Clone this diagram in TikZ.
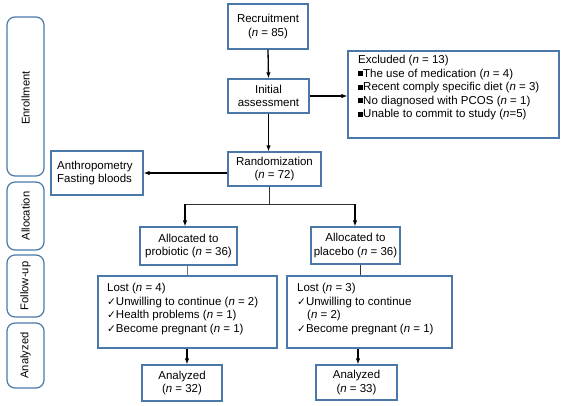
\documentclass[tikz,border=0pt]{standalone}
\usepackage{fontspec}
\setmainfont{Liberation Sans}
\newfontfamily\dejavu{DejaVu Sans}
\usetikzlibrary{arrows.meta}
\definecolor{boxblue}{HTML}{4A78A8}
\newcommand{\sqb}{\rule[0.6pt]{5pt}{5pt}}
\newcommand{\ck}{{\dejavu\fontsize{10.5}{10}\selectfont ✓}}
\newcommand{\nn}{\textit{n}}
\tikzset{
  box/.style={draw=boxblue, line width=1.2pt, inner sep=0pt, align=center,
    font=\fontsize{11.5}{13.5}\selectfont},
  side/.style={draw=boxblue, line width=1.2pt, rounded corners=8pt},
  sidetext/.style={rotate=90, font=\fontsize{11.2}{13.5}\selectfont},
  txt/.style={inner sep=0pt, align=left, font=\fontsize{11.5}{13.5}\selectfont},
  arr/.style={line width=1.3pt, -{Latex[length=6pt,width=4.5pt]}},
  thinline/.style={line width=0.9pt, draw=black!80},
}
\begin{document}
\begin{tikzpicture}[x=1pt,y=-1pt]
\useasboundingbox (0,0) rectangle (564,405);
% side boxes
\draw[side] (7,17) rectangle (44,176);
\node[sidetext] (sEnr) at (25.5,98) {Enrollment};
\draw[side] (7,182) rectangle (44,250);
\node[sidetext] (sAll) at (25.5,216) {Allocation};
\draw[side] (7,255) rectangle (44,317);
\node[sidetext] (sFol) at (25.5,286) {Follow-up};
\draw[side] (7,323) rectangle (44,388);
\node[sidetext] (sAna) at (25.5,355.5) {Analyzed};
% main boxes
\node[box, minimum width=80pt, minimum height=45pt] (rec) at (268,26.5) {Recruitment\\(\nn{} = 85)};
\node[box, minimum width=81pt, minimum height=34pt] (init) at (268.5,96) {Initial\\assessment};
\node[box, minimum width=93pt, minimum height=34pt] (rand) at (274.5,169) {Randomization\\(\nn{} = 72)};
\node[box, minimum width=92pt, minimum height=44pt] (anth) at (97,173) {};
\node[txt, anchor=west] (anthT) at (57,173) {Anthropometry\\Fasting bloods};
\node[box, minimum width=211pt, minimum height=87pt] (excl) at (453.5,94.5) {};
\node[txt, anchor=north west] (exclT) at (358,55) {Excluded (\nn{} = 13)\\
\sqb The use of medication (\nn{} = 4)\\
\sqb Recent comply specific diet (\nn{} = 3)\\
\sqb No diagnosed with PCOS (\nn{} = 1)\\
\sqb Unable to commit to study (\nn{}=5)};
\node[box, minimum width=97pt, minimum height=38pt] (prob) at (188.5,246) {Allocated to\\probiotic (\nn{} = 36)};
\node[box, minimum width=89pt, minimum height=37pt] (plac) at (355.5,245.5) {Allocated to\\placebo (\nn{} = 36)};
\node[box, minimum width=179pt, minimum height=72pt] (lost1) at (187.5,312) {};
\node[txt, anchor=north west] (lost1T) at (107,283) {Lost (\nn{} = 4)\\
\ck Unwilling to continue (\nn{} = 2)\\
\ck Health problems (\nn{} = 1)\\
\ck Become pregnant (\nn{} = 1)};
\node[box, minimum width=165pt, minimum height=72pt] (lost2) at (369.5,312) {};
\node[txt, anchor=north west] (lost2T) at (297,283) {Lost (\nn{} = 3)\\
\ck Unwilling to continue\\
\hspace*{10pt}(\nn{} = 2)\\
\ck Become pregnant (\nn{} = 1)};
\node[box, minimum width=80pt, minimum height=36pt] (an1) at (182,383) {Analyzed\\(\nn{} = 32)};
\node[box, minimum width=81pt, minimum height=35pt] (an2) at (356.5,382.5) {Analyzed\\(\nn{} = 33)};
% connectors
\draw[arr] (rec.south) -- (init.north);
\draw[arr] (init.south) -- (init.south |- rand.north);
\draw[arr] (init.east) -- (init.east -| excl.west);
\draw[arr] (rand.west |- anth.east) -- (anth.east);
\coordinate (split) at (269,204);
\coordinate (sl) at (185,204);
\coordinate (sr) at (355,204);
\draw[thinline] (rand.south -| split) -- (split);
\draw[thinline] (sl) -- (sr);
\draw[arr] (sl) -- (sl |- prob.north);
\draw[arr] (sr) -- (sr |- plac.north);
\draw[thinline, draw=black!55] (prob.south -| lost1.north) -- (lost1.north);
\draw[thinline] (plac.south -| 360,0) -- (lost2.north -| 360,0);
\draw[arr] (lost1.south -| 187,0) -- (an1.north -| 187,0);
\draw[arr] (lost2.south -| 358,0) -- (an2.north -| 358,0);
\end{tikzpicture}
\end{document}
